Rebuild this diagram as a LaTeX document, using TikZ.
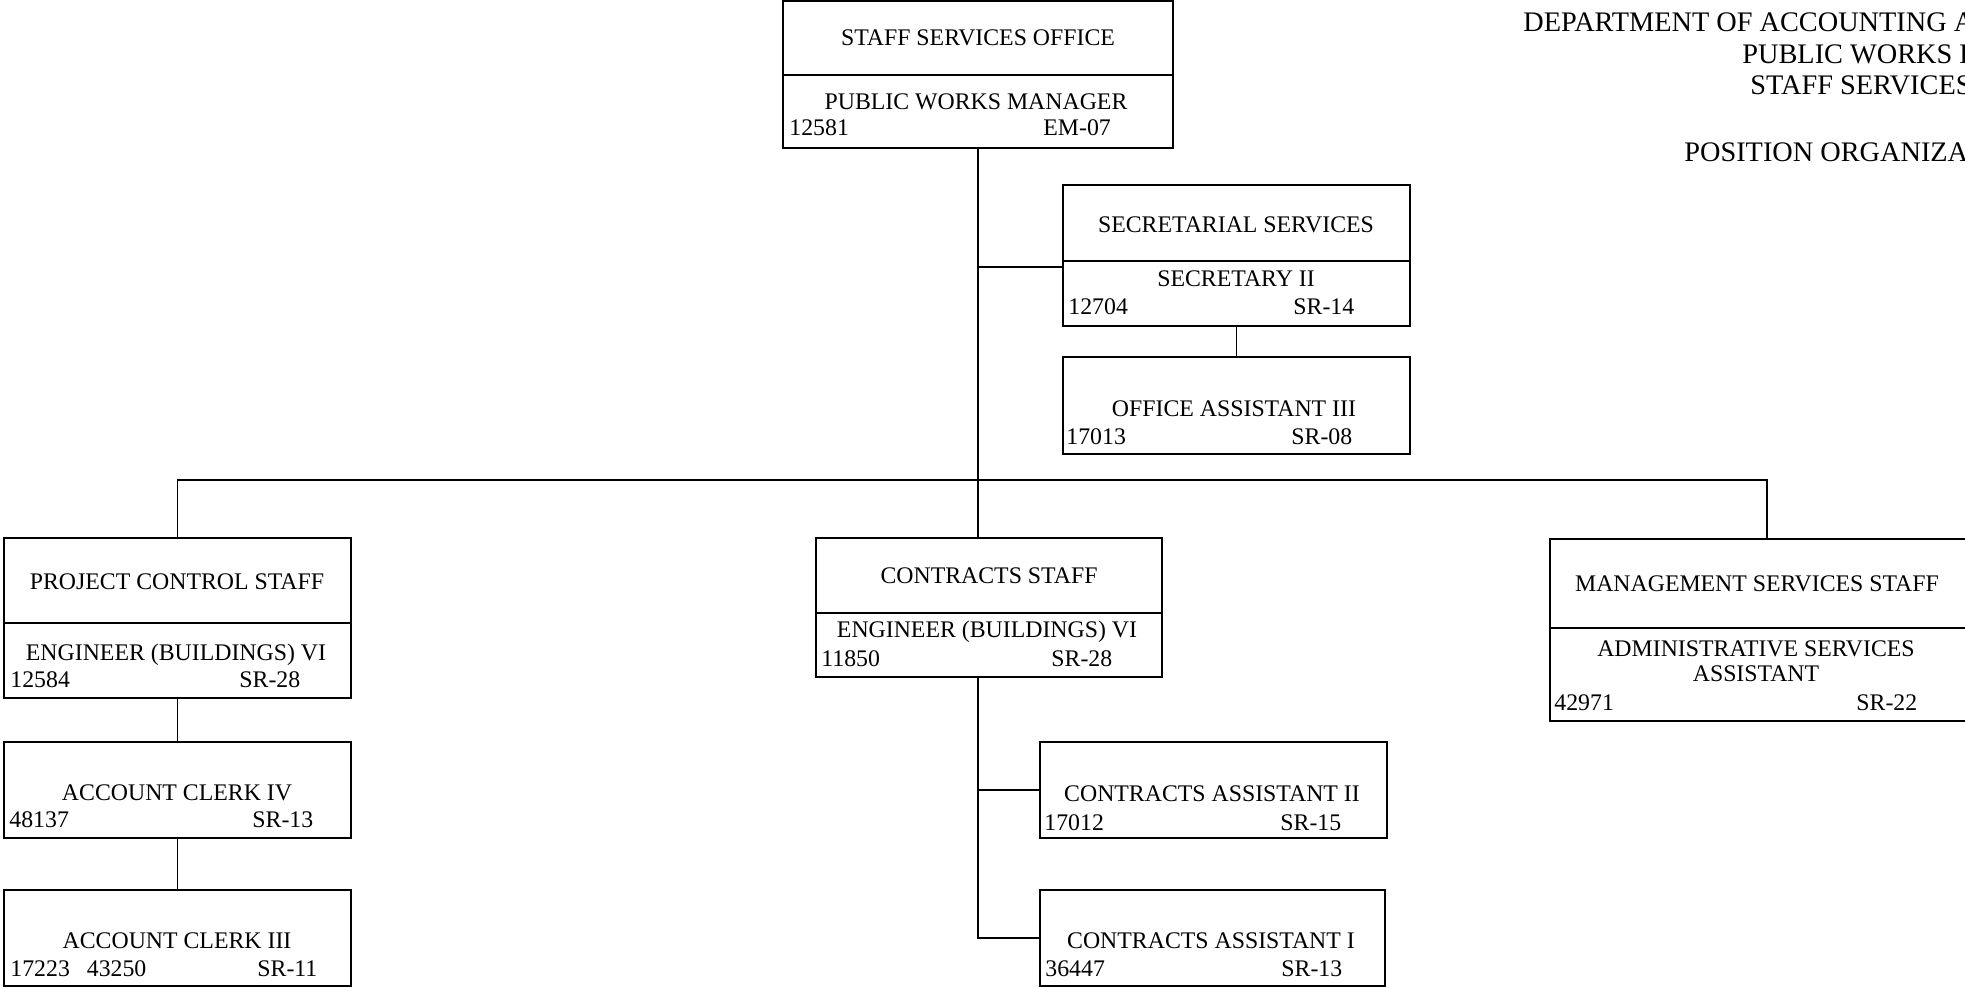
\documentclass[tikz,border=0pt]{standalone}
\usepackage{fontspec}
\setmainfont{Liberation Serif}
\usetikzlibrary{fit}
\begin{document}
\begin{tikzpicture}[x=0.5pt,y=-0.5pt,
  box/.style={draw, line width=0.75pt, inner sep=0pt},
  conn/.style={line width=0.75pt},
  div/.style={line width=0.75pt},
  ttl/.style={anchor=base, inner sep=0pt, font=\fontsize{11.9}{13}\selectfont},
  num/.style={anchor=base west, inner sep=0pt, font=\fontsize{11.9}{13}\selectfont},
  head/.style={anchor=base west, inner sep=0pt, font=\fontsize{14.15}{16}\selectfont}]
\useasboundingbox (0,0) rectangle (1965,988);
\clip (0,0) rectangle (1965,988);

% boxes
\node[box, fit={(783,1) (1173,148)}] (top) {};
\node[box, fit={(1063,185) (1410,326)}] (sec) {};
\node[box, fit={(1063,357) (1410,454)}] (oa) {};
\node[box, fit={(4,538) (351,698)}] (pc) {};
\node[box, fit={(4,742) (351,838)}] (ac4) {};
\node[box, fit={(4,890) (351,986)}] (ac3) {};
\node[box, fit={(816,538) (1162,677)}] (cs) {};
\node[box, fit={(1040,742) (1387,838)}] (ca2) {};
\node[box, fit={(1040,890) (1385,986)}] (ca1) {};
\node[box, fit={(1550,539) (1984,721)}] (ms) {};

% dividers
\draw[div] (783,75) -- (1173,75);
\draw[div] (1063,261) -- (1410,261);
\draw[div] (4,623) -- (351,623);
\draw[div] (816,613) -- (1162,613);
\draw[div] (1550,628) -- (1984,628);

% connectors
\coordinate (bus) at (0,480);
\coordinate (j1) at (0,267);
\draw[conn] (pc.north) -- (pc.north |- bus) -- (ms.north |- bus) -- (ms.north);
\draw[conn] (top.south) -- (top.south |- cs.north);
\draw[conn] (top.south |- j1) -- (sec.west |- j1);
\draw[conn] (sec.south) -- (oa.north);
\draw[conn] (pc.south) -- (ac4.north);
\draw[conn] (ac4.south) -- (ac3.north);
\draw[conn] (top.south |- cs.south) |- (ca1.west);
\draw[conn] (ca2.west) -- (ca2.west -| top.south);

% texts
\node[ttl] (t1) at (978,46) {STAFF SERVICES OFFICE};
\node[ttl] (t2) at (976,110) {PUBLIC WORKS MANAGER};
\node[num] (t3) at (789,136) {12581};
\node[num] (t4) at (1043,136) {EM-07};

\node[ttl] (s1) at (1236,233) {SECRETARIAL SERVICES};
\node[ttl] (s2) at (1236,287) {SECRETARY II};
\node[num] (s3) at (1068,315) {12704};
\node[num] (s4) at (1293,315) {SR-14};

\node[ttl] (o1) at (1234,417) {OFFICE ASSISTANT III};
\node[num] (o2) at (1066,445) {17013};
\node[num] (o3) at (1291,445) {SR-08};

\node[ttl] (p1) at (177,589) {PROJECT CONTROL STAFF};
\node[ttl] (p2) at (176,661) {ENGINEER (BUILDINGS) VI};
\node[num] (p3) at (10,687) {12584};
\node[num] (p4) at (239,687) {SR-28};

\node[ttl] (a1) at (177,800) {ACCOUNT CLERK IV};
\node[num] (a2) at (9,827) {48137};
\node[num] (a3) at (252,827) {SR-13};

\node[ttl] (b1) at (177,948) {ACCOUNT CLERK III};
\node[num] (b2) at (10,976) {17223\hspace{8.5pt}43250};
\node[num] (b3) at (257,976) {SR-11};

\node[ttl] (c1) at (989,584) {CONTRACTS STAFF};
\node[ttl] (c2) at (987,638) {ENGINEER (BUILDINGS) VI};
\node[num] (c3) at (821,667) {11850};
\node[num] (c4) at (1051,667) {SR-28};

\node[ttl] (d1) at (1212,801) {CONTRACTS ASSISTANT II};
\node[num] (d2) at (1044,830) {17012};
\node[num] (d3) at (1280,830) {SR-15};

\node[ttl] (e1) at (1211,948) {CONTRACTS ASSISTANT I};
\node[num] (e2) at (1045,976) {36447};
\node[num] (e3) at (1281,976) {SR-13};

\node[ttl] (m1) at (1757,592) {MANAGEMENT SERVICES STAFF};
\node[ttl] (m2) at (1756,656) {ADMINISTRATIVE SERVICES};
\node[ttl] (m3) at (1756,682) {ASSISTANT};
\node[num] (m4) at (1554,710) {42971};
\node[num] (m5) at (1856,710) {SR-22};

% heading
\node[head] (h1) at (1523,32) {DEPARTMENT OF ACCOUNTING A};
\node[head] (h2) at (1742,64) {PUBLIC WORKS D};
\node[head] (h3) at (1750,95) {STAFF SERVICES};
\node[head] (h4) at (1684,162) {POSITION ORGANIZA};
\end{tikzpicture}
\end{document}
